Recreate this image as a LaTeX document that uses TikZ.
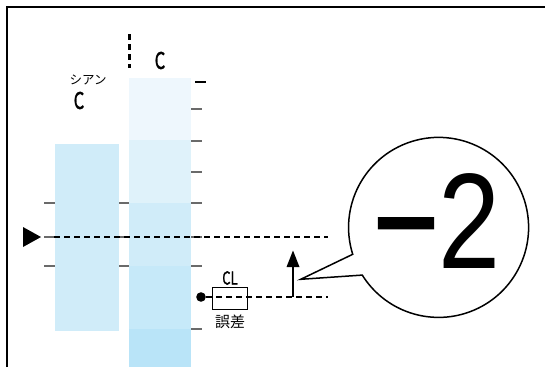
\documentclass[tikz,border=0pt]{standalone}
\usepackage{fontspec}
\newfontfamily\jp{Noto Sans CJK JP}
\newfontfamily\jpb[FakeBold=1.5]{Noto Sans CJK JP}
\newfontfamily\dig{Liberation Sans}
\newfontfamily\digb[FakeBold=2]{Liberation Sans}
\definecolor{b1}{HTML}{EEF7FD}
\definecolor{b2}{HTML}{DFF2FA}
\definecolor{b3}{HTML}{D0ECF9}
\definecolor{b4}{HTML}{C6E9F9}
\definecolor{b5}{HTML}{B9E4F8}
\definecolor{tk}{HTML}{6A6A6A}
\tikzset{
  tick/.style={draw=tk, line width=1.3pt},
  dashline/.style={draw=black, line width=1.3pt, dash pattern=on 6pt off 4pt},
  lbl/.style={inner sep=0pt},
}
\begin{document}
\begin{tikzpicture}[x=1pt,y=-1pt]
\useasboundingbox (0,0) rectangle (545,367);
% frame
\draw[line width=1.8pt] (7,367) -- (7,7) -- (545,7);
% left bar
\fill[b3] (55,144) rectangle (119,331);
% right bar segments
\fill[b1] (129,78) rectangle (191,140);
\fill[b2] (129,140) rectangle (191,203);
\fill[b3] (129,203) rectangle (191,266);
\fill[b4] (129,266) rectangle (191,329);
\fill[b5] (129,329) rectangle (191,367);
% right ticks
\draw[line width=1.5pt] (195,82) -- (206,82);
\foreach \y in {109,141,172,203,237,266,329} \draw[tick] (191,\y) -- (202,\y);
% left & middle ticks
\foreach \y in {203,237,266} {\draw[tick] (44,\y) -- (55,\y); \draw[tick] (119,\y) -- (129,\y);}
% top labels
\draw[line width=3pt, dash pattern=on 6pt off 4pt] (129,34) -- (129,68);
\node[lbl, font=\jpb\fontsize{23}{23}\selectfont, xscale=0.72] (c2) at (160,60.5) {C};
\node[lbl, font=\jp\fontsize{12.5}{12.5}\selectfont] (shian) at (88,80) {シアン};
\node[lbl, font=\jpb\fontsize{23}{23}\selectfont, xscale=0.72] (c1) at (79,100.5) {C};
% triangle marker
\coordinate (tri) at (41,237);
\fill (23,227) -- (41,237) -- (23,247) -- cycle;
\coordinate (d1a) at (54,237);
\coordinate (d1b) at (328,237);
\draw[dashline] (d1a) -- (d1b);
% CL element
\fill (201,297) circle (4.8);
\node[draw, line width=1.3pt, minimum width=34.5pt, minimum height=22.5pt, inner sep=0pt] (cl) at (230,298.5) {};
\coordinate (d2a) at (206,297);
\coordinate (d2b) at (328,297);
\draw[dashline] (d2a) -- (d2b);
\node[lbl, font=\jpb\fontsize{18}{18}\selectfont, xscale=0.72] (cltext) at (230,278) {CL};
\node[lbl, font=\jp\fontsize{15}{15}\selectfont] (gosa) at (230,322) {誤差};
% arrow
\coordinate (ab) at (293,297);
\coordinate (at) at (293,250.5);
\draw[line width=1.3pt] (ab) -- (293,265);
\fill (at) -- (286.5,267) -- (299.5,267) -- cycle;
% callout
\coordinate (cc) at (438.7,227.3);
\coordinate (tip) at (300.7,279.3);
\draw[line width=1.5pt, fill=white]
  (352.7,254.3) arc[start angle=162.6, end angle=508, radius=90] -- (tip) -- cycle;
\node[font=\dig\fontsize{136}{136}\selectfont, xscale=0.82, inner sep=0pt] (num) at (437,221) {{\digb\char"2212}2};
\end{tikzpicture}
\end{document}
